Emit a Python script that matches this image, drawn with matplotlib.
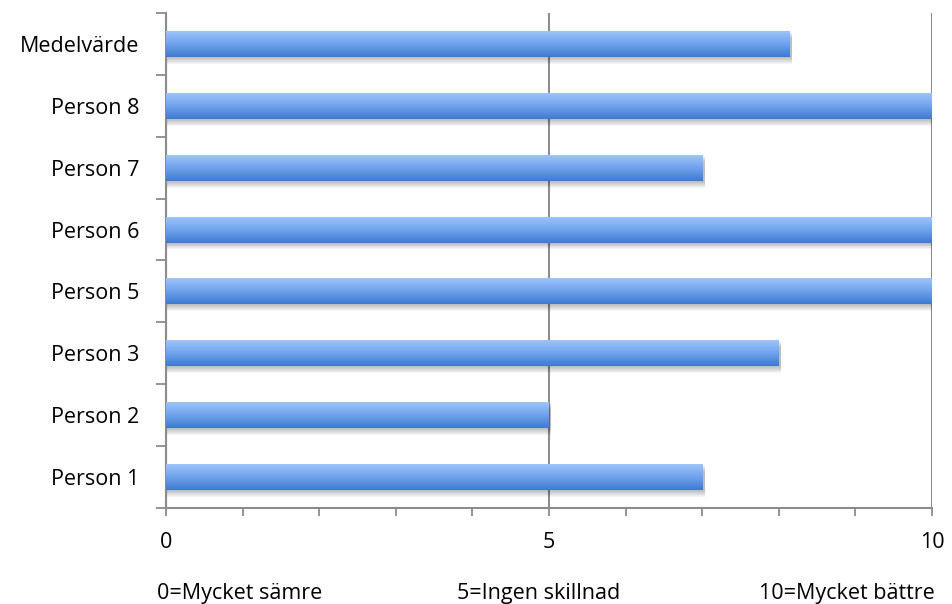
import matplotlib.pyplot as plt
import numpy as np
from matplotlib.colors import LinearSegmentedColormap
from matplotlib.patches import Rectangle

# Data
categories = ['Person 1', 'Person 2', 'Person 3', 'Person 5', 'Person 6', 'Person 7', 'Person 8', 'Medelvärde']
values = [7, 5, 8, 10, 10, 7, 10, 8.14]
scale_labels = ['0=Mycket sämre', '5=Ingen skillnad', '10=Mycket bättre']

plt.rcParams['font.family'] = ['Open Sans', 'DejaVu Sans']
fs = 15.5

fig = plt.figure(figsize=(9.52, 6.04), dpi=100)
ax = fig.add_axes([0.1744, 0.159, 0.8046, 0.8195])

cmap = LinearSegmentedColormap.from_list('bar', ['#3E7BD0', '#6FA2EC', '#9DC4FB'])
grad = np.linspace(1, 0, 64).reshape(-1, 1)
h = 0.42

for i, v in enumerate(values):
    y0 = i - h / 2
    # soft shadow under the bar
    for k in range(7):
        ax.add_patch(Rectangle((0, y0 - 0.016 * (k + 1)), v + 0.03, h, color='#000000',
                               alpha=0.04, lw=0, zorder=1))
    ax.imshow(grad, cmap=cmap, aspect='auto', extent=(0, v, y0, y0 + h),
              zorder=3, interpolation='bilinear')

ax.set_xlim(0, 10)
ax.set_ylim(-0.5, len(categories) - 0.5)
ax.set_aspect('auto')

# axes styling
for s in ['top', 'right']:
    ax.spines[s].set_visible(False)
for s in ['left', 'bottom']:
    ax.spines[s].set_color('#8c8c8c')
    ax.spines[s].set_linewidth(1.5)

ax.set_xticks([0, 5, 10])
ax.set_xticks(range(11), minor=True)
ax.tick_params(axis='x', which='both', length=6, width=1.3, color='#8c8c8c',
               labelsize=fs, pad=11)
ax.xaxis.grid(True, which='major', color='#8c8c8c', linewidth=1.5, zorder=0)
ax.set_axisbelow(True)

ax.set_yticks(range(len(categories)))
ax.set_yticklabels(categories, fontsize=fs)
ax.set_yticks(np.arange(-0.5, len(categories)), minor=True)
ax.tick_params(axis='y', which='major', length=0, pad=19)
ax.tick_params(axis='y', which='minor', length=7, width=1.3, color='#8c8c8c')

ax.text(-0.12, -0.172, scale_labels[0], transform=ax.get_xaxis_transform(),
        ha='left', va='center', fontsize=fs)
ax.text(4.87, -0.172, scale_labels[1], transform=ax.get_xaxis_transform(),
        ha='center', va='center', fontsize=fs)
ax.text(10.04, -0.172, scale_labels[2], transform=ax.get_xaxis_transform(),
        ha='right', va='center', fontsize=fs)

fig.savefig('out.png', dpi=100)
